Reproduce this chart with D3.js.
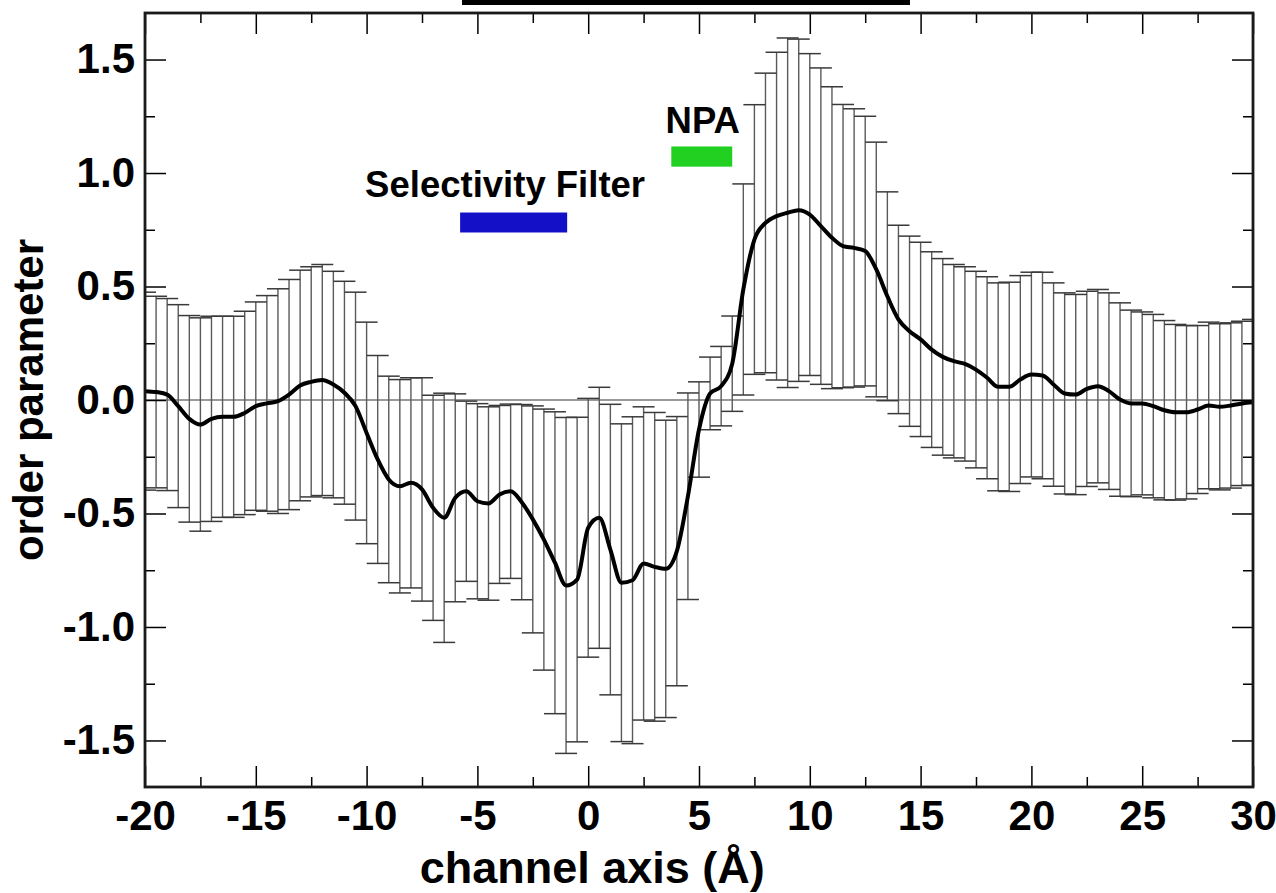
<!DOCTYPE html>
<html><head><meta charset="utf-8">
<script src="https://cdn.jsdelivr.net/npm/d3@7"></script>
<style>body{margin:0;background:#fff} svg{display:block}</style>
</head><body>
<svg id="c" width="1276" height="893"></svg>
<script>
// ---- data ----
const positions = [-20,-19.5,-19,-18.5,-18,-17.5,-17,-16.5,-16,-15.5,-15,-14.5,-14,-13.5,-13,-12.5,-12,-11.5,-11,-10.5,
  -10,-9.5,-9,-8.5,-8,-7.5,-7,-6.5,-6,-5.5,-5,-4.5,-4,-3.5,-3,-2.5,-2,-1.5,-1,-0.5,
  0,0.5,1,1.5,2,2.5,3,3.5,4,4.5,5,5.5,6,6.5,7,7.5,8,8.5,9,9.5,
  10,10.5,11,11.5,12,12.5,13,13.5,14,14.5,15,15.5,16,16.5,17,17.5,18,18.5,19,19.5,
  20,20.5,21,21.5,22,22.5,23,23.5,24,24.5,25,25.5,26,26.5,27,27.5,28,28.5,29,29.5,30];
const meanValues = [0.039,0.035,0.024,-0.027,-0.083,-0.108,-0.083,-0.074,-0.074,-0.057,-0.027,-0.015,-0.005,0.024,0.064,0.08,0.088,0.068,0.032,-0.027,
  -0.145,-0.262,-0.35,-0.38,-0.365,-0.394,-0.475,-0.519,-0.431,-0.402,-0.446,-0.456,-0.416,-0.402,-0.45,-0.526,-0.615,-0.717,-0.817,-0.791,
  -0.563,-0.519,-0.659,-0.805,-0.794,-0.72,-0.735,-0.744,-0.666,-0.424,-0.13,0.029,0.061,0.16,0.487,0.707,0.78,0.81,0.825,0.836,
  0.817,0.766,0.715,0.678,0.67,0.656,0.575,0.457,0.355,0.303,0.267,0.222,0.19,0.171,0.159,0.134,0.098,0.058,0.058,0.09,
  0.112,0.108,0.068,0.029,0.024,0.049,0.061,0.039,0.002,-0.015,-0.015,-0.027,-0.045,-0.054,-0.054,-0.042,-0.024,-0.03,-0.024,-0.015,-0.01];
const errValues = [0.436,0.422,0.423,0.447,0.455,0.47,0.452,0.443,0.443,0.448,0.459,0.475,0.495,0.507,0.508,0.507,0.509,0.499,0.491,0.502,
  0.488,0.458,0.455,0.47,0.463,0.492,0.496,0.549,0.458,0.397,0.43,0.426,0.392,0.384,0.43,0.5,0.575,0.665,0.74,0.715,
  0.57,0.575,0.64,0.70,0.72,0.69,0.68,0.655,0.593,0.455,0.21,0.16,0.175,0.21,0.465,0.594,0.66,0.722,0.77,0.754,
  0.709,0.697,0.665,0.624,0.613,0.594,0.561,0.46,0.415,0.419,0.428,0.431,0.433,0.426,0.428,0.433,0.445,0.458,0.461,0.458,
  0.451,0.455,0.448,0.443,0.441,0.43,0.426,0.433,0.426,0.411,0.403,0.404,0.395,0.387,0.382,0.37,0.367,0.366,0.364,0.362,0.365];

const xTickValues = [-20,-15,-10,-5,0,5,10,15,20,25,30];
const xTickLabels = ["-20","-15","-10","-5","0","5","10","15","20","25","30"];
const xMinorTicks = [-17.5,-12.5,-7.5,-2.5,2.5,7.5,12.5,17.5,22.5,27.5];
const yTickValues = [-1.5,-1,-0.5,0,0.5,1,1.5];
const yTickLabels = ["-1.5","-1.0","-0.5","0.0","0.5","1.0","1.5"];
const yMinorTicks = [-1.25,-0.75,-0.25,0.25,0.75,1.25];

const regionNames = ["Selectivity Filter","NPA"];
const regionStart = [-5.78, 3.75];
const regionEnd = [-0.95, 6.5];
const regionTop = [0.826, 1.117];
const regionBottom = [0.738, 1.028];
const regionLabelX = [-3.75, 5.17];
const regionLabelY = [0.896, 1.178];
const regionColors = ["#1410c8", "#22d022"];

const xTitle = "channel axis (Å)";
const yTitle = "order parameter";

// ---- layout ----
const L = 145, R = 1253, T = 13, B = 787;
const svg = d3.select("#c");
const x = d3.scaleLinear().domain([-20, 30]).range([L, R]);
const y = d3.scaleLinear().domain([-1.705, 1.705]).range([B, T]);
const FONT = "'Liberation Sans', Arial, Helvetica, sans-serif";

const data = positions.map((p, i) => ({x: p, m: meanValues[i], e: errValues[i]}));

// decorative bar at the very top (cropped element of the original figure)
svg.append("rect").attr("x", 462).attr("y", 0).attr("width", 448).attr("height", 5).attr("fill", "#000");

svg.append("defs").append("clipPath").attr("id", "plot")
  .append("rect").attr("x", L).attr("y", T).attr("width", R - L).attr("height", B - T);

const g = svg.append("g").attr("clip-path", "url(#plot)");

// zero line
g.append("line").attr("x1", L).attr("x2", R).attr("y1", y(0)).attr("y2", y(0))
  .attr("stroke", "#777").attr("stroke-width", 1.6);

// error bars
const eb = g.append("g");
eb.selectAll("line.v").data(data).join("line").attr("class", "v")
  .attr("x1", d => x(d.x)).attr("x2", d => x(d.x))
  .attr("y1", d => y(d.m + d.e)).attr("y2", d => y(d.m - d.e))
  .attr("stroke", "#5a5a5a").attr("stroke-width", 1.4);
const capW = 11;
eb.selectAll("line.ct").data(data).join("line").attr("class", "ct")
  .attr("x1", d => x(d.x) - capW).attr("x2", d => x(d.x) + capW)
  .attr("y1", d => y(d.m + d.e)).attr("y2", d => y(d.m + d.e))
  .attr("stroke", "#3a3a3a").attr("stroke-width", 1.5);
eb.selectAll("line.cb").data(data).join("line").attr("class", "cb")
  .attr("x1", d => x(d.x) - capW).attr("x2", d => x(d.x) + capW)
  .attr("y1", d => y(d.m - d.e)).attr("y2", d => y(d.m - d.e))
  .attr("stroke", "#3a3a3a").attr("stroke-width", 1.5);

// mean line
g.append("path").datum(data)
  .attr("d", d3.line().x(d => x(d.x)).y(d => y(d.m)).curve(d3.curveMonotoneX))
  .attr("fill", "none").attr("stroke", "#000").attr("stroke-width", 4).attr("stroke-linejoin", "round");

// region markers
regionNames.forEach((name, i) => {
  svg.append("rect")
    .attr("x", x(regionStart[i])).attr("width", x(regionEnd[i]) - x(regionStart[i]))
    .attr("y", y(regionTop[i])).attr("height", y(regionBottom[i]) - y(regionTop[i]))
    .attr("fill", regionColors[i]);
  svg.append("text").attr("x", x(regionLabelX[i])).attr("y", y(regionLabelY[i]))
    .attr("text-anchor", "middle").attr("font-family", FONT).attr("font-weight", "bold")
    .attr("font-size", 36.5).attr("fill", "#000").text(name);
});

// axes
function styleAxis(sel) {
  sel.select(".domain").remove();
  sel.selectAll(".tick line").attr("stroke", "#000").attr("stroke-width", 1.5);
  sel.selectAll(".tick text").attr("font-family", FONT).attr("font-weight", "bold")
    .attr("font-size", 42).attr("fill", "#000");
}
const MAJ = 21, MIN = 10;
svg.append("g").attr("transform", `translate(0,${B})`)
  .call(d3.axisBottom(x).tickValues(xTickValues).tickSize(-MAJ).tickPadding(13)
    .tickFormat((d, i) => xTickLabels[i])).call(styleAxis);
svg.append("g").attr("transform", `translate(0,${B})`)
  .call(d3.axisBottom(x).tickValues(xMinorTicks).tickSize(-MIN).tickFormat("")).call(styleAxis);
svg.append("g").attr("transform", `translate(0,${T})`)
  .call(d3.axisTop(x).tickValues(xTickValues).tickSize(-MAJ).tickFormat("")).call(styleAxis);
svg.append("g").attr("transform", `translate(0,${T})`)
  .call(d3.axisTop(x).tickValues(xMinorTicks).tickSize(-MIN).tickFormat("")).call(styleAxis);
svg.append("g").attr("transform", `translate(${L},0)`)
  .call(d3.axisLeft(y).tickValues(yTickValues).tickSize(-MAJ).tickPadding(10)
    .tickFormat((d, i) => yTickLabels[i])).call(styleAxis);
svg.append("g").attr("transform", `translate(${L},0)`)
  .call(d3.axisLeft(y).tickValues(yMinorTicks).tickSize(-MIN).tickFormat("")).call(styleAxis);
svg.append("g").attr("transform", `translate(${R},0)`)
  .call(d3.axisRight(y).tickValues(yTickValues).tickSize(-MAJ).tickFormat("")).call(styleAxis);
svg.append("g").attr("transform", `translate(${R},0)`)
  .call(d3.axisRight(y).tickValues(yMinorTicks).tickSize(-MIN).tickFormat("")).call(styleAxis);

// frame
svg.append("rect").attr("x", L).attr("y", T).attr("width", R - L).attr("height", B - T)
  .attr("fill", "none").attr("stroke", "#1a1a1a").attr("stroke-width", 2.8);

// titles
svg.append("text").attr("x", x(0) + 4).attr("y", 883).attr("text-anchor", "middle")
  .attr("font-family", FONT).attr("font-weight", "bold").attr("font-size", 45).text(xTitle);
svg.append("text").attr("transform", `translate(43,${(T + B) / 2}) rotate(-90)`).attr("text-anchor", "middle")
  .attr("font-family", FONT).attr("font-weight", "bold").attr("font-size", 42).text(yTitle);
</script>
</body></html>
